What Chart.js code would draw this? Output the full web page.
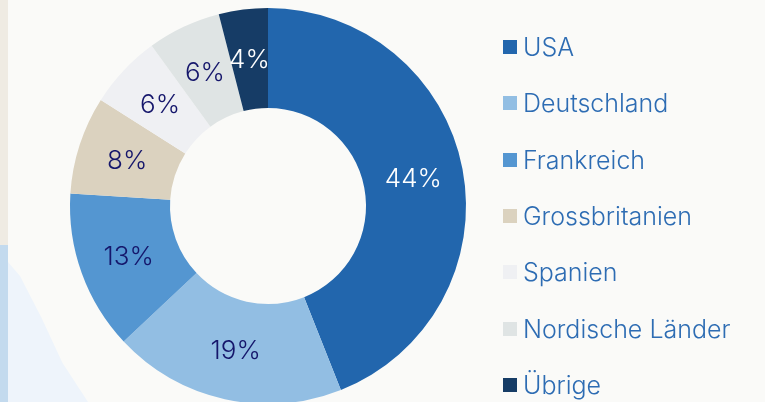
<!DOCTYPE html>
<html>
<head>
<meta charset="utf-8">
<script src="https://cdn.jsdelivr.net/npm/chart.js@4/dist/chart.umd.min.js"></script>
<style>
  html, body { margin: 0; padding: 0; background: #fafaf8; overflow: hidden; }
  #wrap { position: relative; width: 765px; height: 402px; overflow: hidden; }
  #strip-top { position: absolute; left: 0; top: 0; width: 8px; height: 245px; background: #efebe3; }
  #strip-bot { position: absolute; left: 0; top: 245px; width: 8px; height: 157px; background: #c3daee; }
  #pale { position: absolute; left: 8px; top: 262px; width: 80px; height: 140px; background: #eef4fb;
          clip-path: polygon(0 0, 15% 10%, 42% 40%, 68% 72%, 100% 100%, 0 100%); }
  #chartBox { position: absolute; left: 0; top: 0; width: 765px; height: 410px; }
  #legend { position: absolute; left: 503px; top: 0; margin: 0; padding: 0; list-style: none;
            font-family: Inter, "Liberation Sans", sans-serif; font-weight: 300; font-size: 25px; color: #2d6cb3; }
  #legend li { position: absolute; left: 0; white-space: nowrap; display: flex; align-items: center; height: 30px; }
  #legend span.box { display: inline-block; width: 14px; height: 14px; margin-right: 6px; }
</style>
</head>
<body>
<div id="wrap">
  <div id="strip-top"></div>
  <div id="strip-bot"></div>
  <div id="pale"></div>
  <div id="chartBox"><canvas id="donut" width="765" height="410"></canvas></div>
  <ul id="legend"></ul>
</div>
<script>
const countries = ['USA', 'Deutschland', 'Frankreich', 'Grossbritanien', 'Spanien', 'Nordische Länder', 'Übrige'];
const shares = [44, 19, 13, 8, 6, 6, 4];
const sliceColors = ['#2266ad', '#92bee3', '#5496d1', '#dbd2bf', '#eff0f3', '#dfe4e4', '#163c66'];
const labelColors = ['#ffffff', '#15166b', '#15166b', '#15166b', '#15166b', '#15166b', '#ffffff'];

// percent labels in the middle of each ring segment
const sliceLabels = {
  id: 'sliceLabels',
  afterDatasetsDraw(chart) {
    const ctx = chart.ctx;
    const meta = chart.getDatasetMeta(0);
    ctx.save();
    ctx.font = '300 26px Inter, "Liberation Sans", sans-serif';
    ctx.textAlign = 'center';
    ctx.textBaseline = 'middle';
    meta.data.forEach((arc, i) => {
      const p = arc.tooltipPosition();
      ctx.fillStyle = labelColors[i];
      ctx.fillText(shares[i] + '%', p.x, p.y + 1);
    });
    ctx.restore();
  }
};

new Chart(document.getElementById('donut'), {
  type: 'doughnut',
  data: {
    labels: countries,
    datasets: [{
      data: shares,
      backgroundColor: sliceColors,
      borderWidth: 0,
      hoverOffset: 0
    }]
  },
  options: {
    responsive: false,
    animation: false,
    cutout: '49.5%',
    layout: { padding: { left: 70, right: 299, top: 8, bottom: 6 } },
    plugins: {
      legend: { display: false },
      tooltip: { enabled: false }
    }
  },
  plugins: [sliceLabels]
});

const legendRows = [47, 103, 160, 216, 272, 329, 385];
const ul = document.getElementById('legend');
countries.forEach((name, i) => {
  const li = document.createElement('li');
  li.style.top = (legendRows[i] - 15) + 'px';
  li.innerHTML = '<span class="box" style="background:' + sliceColors[i] + '"></span>' + name;
  ul.appendChild(li);
});
</script>
</body>
</html>
